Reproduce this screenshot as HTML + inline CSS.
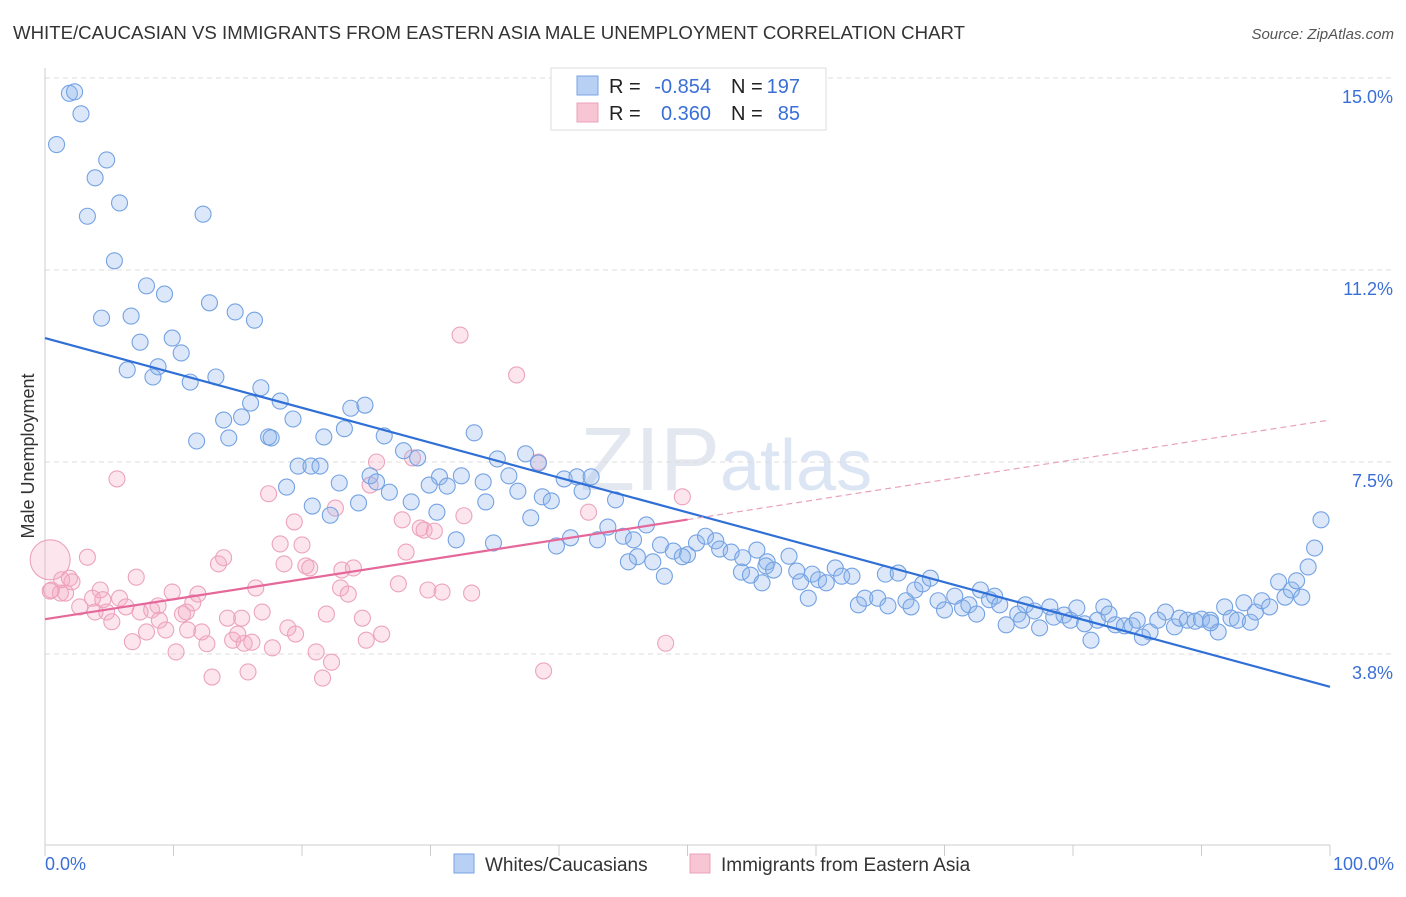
<!DOCTYPE html>
<html><head><meta charset="utf-8"><style>
body{margin:0;background:#fff;font-family:"Liberation Sans",sans-serif;}
svg text{font-family:"Liberation Sans",sans-serif;}
</style></head><body>
<svg id="c" width="1406" height="892" viewBox="0 0 1406 892">
<text x="13" y="39" font-size="18" fill="#333" textLength="952" lengthAdjust="spacingAndGlyphs">WHITE/CAUCASIAN VS IMMIGRANTS FROM EASTERN ASIA MALE UNEMPLOYMENT CORRELATION CHART</text>
<text x="1394" y="39" font-size="15" fill="#555" font-style="italic" text-anchor="end">Source: ZipAtlas.com</text>
<text x="720" y="490" font-size="90" fill="#e3e8f0" text-anchor="end" font-family="Liberation Serif">ZIP</text>
<text x="720" y="490" font-size="72" fill="#dbe5f3">atlas</text>
<g id="grid"></g><g id="axes"></g><g id="pink"></g><g id="blue"></g><g id="lines"></g>
<text transform="translate(34,456) rotate(-90)" font-size="18" fill="#333" text-anchor="middle">Male Unemployment</text>
<text x="45" y="870" font-size="18" fill="#3a6fd8">0.0%</text>
<text x="1394" y="870" font-size="18" fill="#3a6fd8" text-anchor="end">100.0%</text>
<g>
<rect x="551" y="68" width="275" height="62" fill="#fff" stroke="#ddd"/>
<rect x="577" y="76" width="21" height="19" fill="#b8d0f3" stroke="#7aa2e4"/>
<rect x="577" y="103" width="21" height="19" fill="#f8c5d5" stroke="#eba0bb"/>
<text x="609" y="93" font-size="20" fill="#222">R =</text>
<text x="711" y="93" font-size="20" fill="#3a6fd8" text-anchor="end">-0.854</text>
<text x="731" y="93" font-size="20" fill="#222">N =</text>
<text x="800" y="93" font-size="20" fill="#3a6fd8" text-anchor="end">197</text>
<text x="609" y="120" font-size="20" fill="#222">R =</text>
<text x="711" y="120" font-size="20" fill="#3a6fd8" text-anchor="end">0.360</text>
<text x="731" y="120" font-size="20" fill="#222">N =</text>
<text x="800" y="120" font-size="20" fill="#3a6fd8" text-anchor="end">85</text>
</g>
<g>
<rect x="454" y="854" width="20" height="19" fill="#b8d0f3" stroke="#7aa2e4"/>
<text x="485" y="871" font-size="19" fill="#333">Whites/Caucasians</text>
<rect x="690" y="854" width="20" height="19" fill="#f8c5d5" stroke="#eba0bb"/>
<text x="721" y="871" font-size="19" fill="#333">Immigrants from Eastern Asia</text>
</g>
</svg>
<script>
const yTicks=[3.75,7.5,11.25,15];
const yTickLabels=["3.8%","7.5%","11.2%","15.0%"];
const blueX=[1.9,2.3,2.8,0.9,4.8,3.9,5.8,3.3,12.3,5.4,7.9,9.3,12.8,4.4,6.7,14.8,16.3,7.4,9.9,10.6,6.4,8.8,8.4,11.3,13.3,16.8,16.0,18.3,23.8,24.9,13.9,15.3,19.3,11.8,14.3,17.4,17.6,21.7,23.3,26.4,33.4,27.9,29.0,35.2,37.4,19.7,20.7,21.4,38.4,25.3,30.7,32.4,36.1,40.4,41.4,42.5,18.8,22.9,25.8,26.8,29.9,31.3,34.1,28.5,20.8,24.4,22.2,30.5,36.8,38.7,39.4,41.8,44.4,34.3,37.8,32.0,34.9,39.8,40.9,43.0,43.8,45.0,46.8,45.8,46.1,47.9,45.4,47.3,48.9,50.0,49.6,50.7,51.4,52.2,52.5,53.4,54.3,55.4,56.2,57.9,56.1,54.2,54.9,56.7,58.5,59.7,60.2,61.5,62.0,55.8,58.8,59.4,60.8,62.8,48.2,63.3,63.8,64.8,65.4,66.4,65.6,67.0,67.7,68.3,68.9,67.4,69.5,70.0,70.8,71.4,71.9,72.5,72.8,73.5,73.9,74.3,74.8,75.7,76.0,76.3,77.0,77.4,78.2,78.5,79.3,79.8,80.3,80.9,81.4,81.9,82.4,82.8,83.3,84.0,84.6,85.0,85.4,86.0,86.6,87.2,87.9,88.3,88.9,89.5,90.0,90.7,91.3,91.8,92.3,92.8,93.3,93.8,94.2,94.7,95.3,96.0,96.5,97.0,97.4,97.8,98.3,98.8,99.3,90.7];
const blueY=[14.7,14.73,14.3,13.7,13.4,13.05,12.56,12.3,12.34,11.43,10.94,10.78,10.61,10.31,10.35,10.43,10.27,9.84,9.92,9.63,9.3,9.36,9.16,9.06,9.16,8.95,8.65,8.69,8.55,8.61,8.32,8.38,8.34,7.91,7.97,7.99,7.97,7.99,8.15,8.01,8.07,7.72,7.58,7.56,7.66,7.42,7.42,7.42,7.48,7.23,7.21,7.23,7.23,7.17,7.21,7.21,7.01,7.09,7.11,6.91,7.05,7.03,7.11,6.72,6.64,6.7,6.46,6.52,6.93,6.82,6.74,6.93,6.76,6.72,6.41,5.98,5.92,5.86,6.02,5.98,6.23,6.05,6.27,5.98,5.65,5.88,5.55,5.55,5.76,5.69,5.65,5.92,6.05,5.96,5.8,5.74,5.63,5.78,5.55,5.66,5.47,5.35,5.29,5.39,5.37,5.31,5.2,5.43,5.27,5.14,5.16,4.84,5.14,5.27,5.27,4.71,4.84,4.84,5.31,5.33,4.69,4.79,5.0,5.12,5.23,4.67,4.79,4.61,4.88,4.65,4.71,4.53,5.0,4.81,4.88,4.71,4.32,4.53,4.41,4.71,4.59,4.26,4.67,4.47,4.51,4.41,4.65,4.34,4.02,4.41,4.67,4.53,4.32,4.3,4.3,4.41,4.08,4.18,4.41,4.57,4.28,4.45,4.41,4.39,4.43,4.41,4.18,4.67,4.45,4.41,4.75,4.37,4.57,4.79,4.67,5.16,4.86,5.0,5.18,4.86,5.45,5.82,6.37,4.36];
const pinkX=[0.4,0.5,1.2,1.3,1.9,1.6,2.1,3.3,2.7,3.7,3.9,4.3,4.5,4.8,5.2,5.8,6.3,6.8,7.1,7.4,7.9,8.3,8.8,8.9,9.4,9.9,10.2,10.7,11.0,11.1,11.5,11.9,12.2,12.6,13.0,13.5,13.9,14.2,14.6,15.0,15.3,15.5,15.8,16.1,16.4,16.9,17.4,17.7,18.3,18.6,18.9,19.4,19.5,20.0,20.3,20.6,21.1,21.6,21.9,22.3,22.6,23.0,23.1,23.6,24.0,24.7,25.0,25.3,25.8,26.2,27.5,27.8,28.1,28.6,29.2,29.5,29.8,30.3,30.9,32.3,32.6,33.2,36.7,38.4,38.8,42.3,48.3,49.6,5.6,0.4];
const pinkY=[5.59,5.0,4.94,5.2,5.23,4.94,5.16,5.64,4.67,4.84,4.57,5.0,4.81,4.57,4.38,4.84,4.67,3.99,5.25,4.57,4.18,4.61,4.69,4.41,4.22,4.96,3.79,4.53,4.57,4.22,4.75,4.92,4.18,3.95,3.3,5.51,5.63,4.45,4.02,4.14,4.45,3.96,3.4,3.98,5.04,4.57,6.88,3.87,5.9,5.51,4.26,6.33,4.14,5.88,5.47,5.43,3.79,3.28,4.53,3.59,6.6,5.04,5.39,4.92,5.43,4.45,4.02,7.05,7.5,4.14,5.12,6.37,5.74,7.58,6.21,6.17,5.0,6.15,4.96,9.98,6.45,4.94,9.2,7.5,3.42,6.52,3.96,6.82,7.17,4.98];
const blueTrend=[9.92,3.11];
const pinkTrend=[4.43,8.32];
const NS='http://www.w3.org/2000/svg';
const sx=v=>45+v*12.85;
const sy=v=>78+(15-v)*51.2;
function mk(tag,attrs,parent){const e=document.createElementNS(NS,tag);for(const k in attrs)e.setAttribute(k,attrs[k]);parent.appendChild(e);return e;}
const grid=document.getElementById('grid'),axes=document.getElementById('axes');
yTicks.forEach((t,i)=>{
 const l=mk('line',{x1:45,x2:1395,y1:sy(t),y2:sy(t),stroke:'#ddd','stroke-dasharray':'5,4'},grid);
 
 
 const tx=mk('text',{x:1393,y:sy(t)+25,'font-size':18,fill:'#3a6fd8','text-anchor':'end'},grid);
 tx.textContent=yTickLabels[i];
 
 
});
const xa=mk('line',{x1:45,x2:1330,y1:845,y2:845,stroke:'#ccc'},axes);


const ya=mk('line',{x1:45,x2:45,y1:68,y2:845,stroke:'#ccc'},axes);


for(let i=0;i<=10;i++){const t=mk('line',{x1:sx(i*10),x2:sx(i*10),y1:845,y2:856,stroke:'#ccc'},axes);
 
 }
const pg=document.getElementById('pink');
pinkX.forEach((x,i)=>{const c=mk('circle',{cx:sx(x),cy:sy(pinkY[i]),r:i===0?20:8,fill:'rgba(244,170,196,0.3)',stroke:'#eca3bd','stroke-width':1.1},pg);
 
 });
const bg=document.getElementById('blue');
blueX.forEach((x,i)=>{const c=mk('circle',{cx:sx(x),cy:sy(blueY[i]),r:8,fill:'rgba(140,180,235,0.3)',stroke:'#74a2e3','stroke-width':1.1},bg);
 
 });
const lg=document.getElementById('lines');
const bl=mk('line',{x1:sx(0),y1:sy(blueTrend[0]),x2:sx(100),y2:sy(blueTrend[1]),stroke:'#2f6fd6','stroke-width':2.2},lg);


const pm=pinkTrend[0]+(pinkTrend[1]-pinkTrend[0])*0.5;
const pl=mk('line',{x1:sx(0),y1:sy(pinkTrend[0]),x2:sx(50),y2:sy(pm),stroke:'#e4689a','stroke-width':2.2},lg);


const pd=mk('line',{x1:sx(50),y1:sy(pm),x2:sx(100),y2:sy(pinkTrend[1]),stroke:'#e9a0bb','stroke-width':1.2,'stroke-dasharray':'6,4'},lg);


</script>
</body></html>
